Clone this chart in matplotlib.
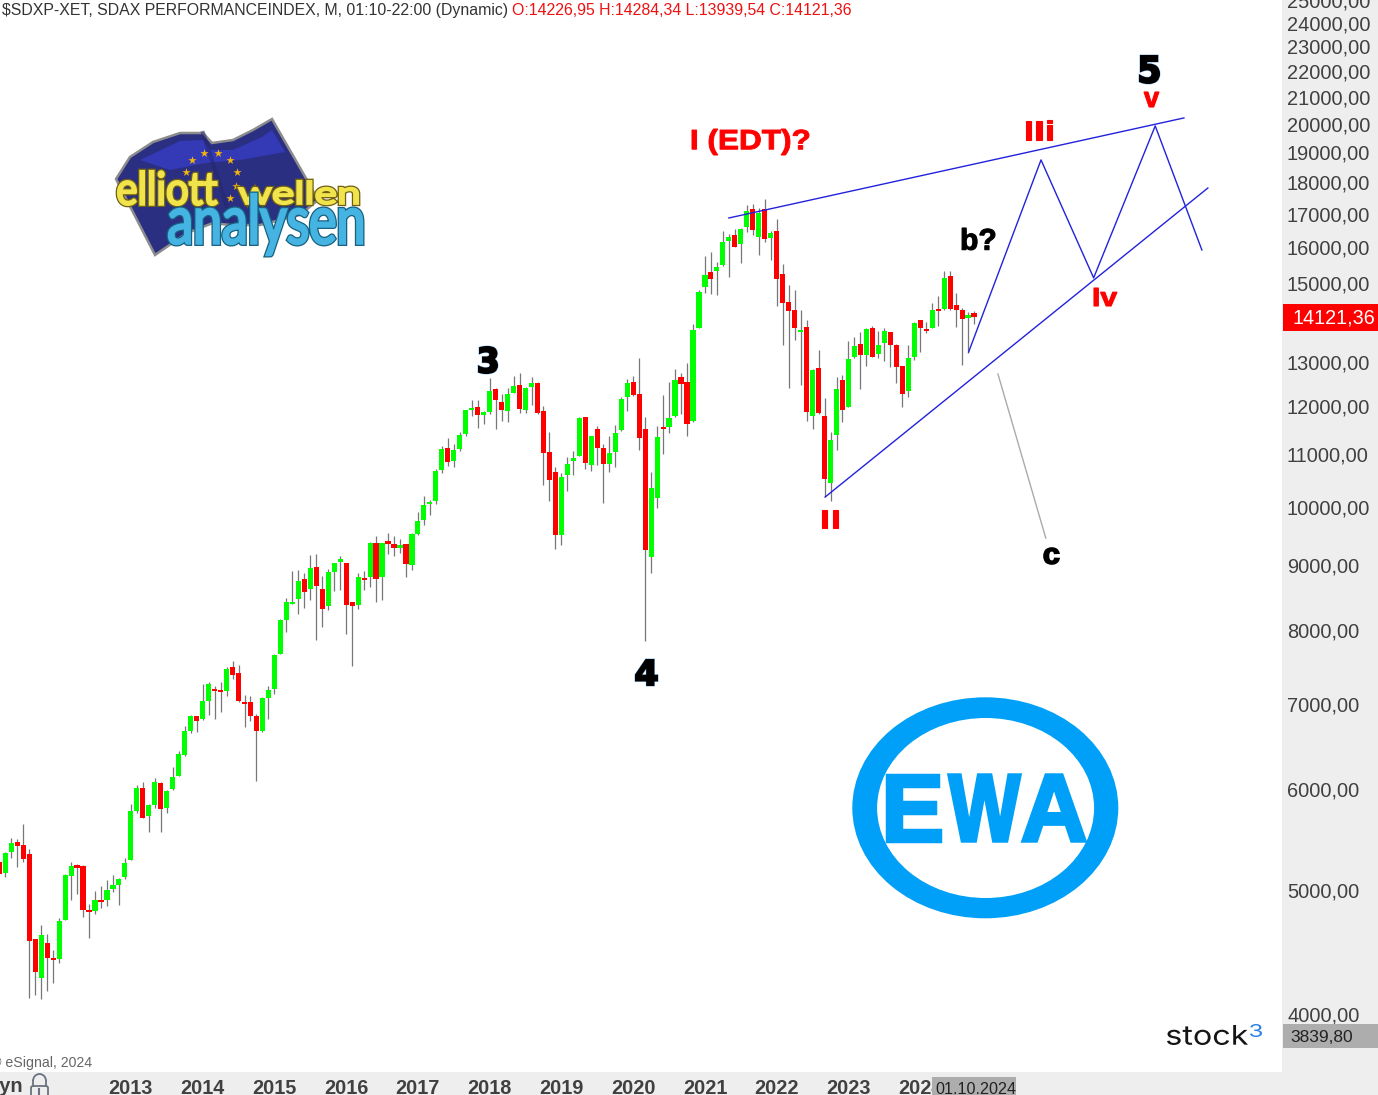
import numpy as np
import matplotlib
matplotlib.use('Agg')
import matplotlib.pyplot as plt
from matplotlib.patches import Ellipse, PathPatch, Polygon, Rectangle, FancyBboxPatch, Arc
from matplotlib.textpath import TextPath
from matplotlib.font_manager import FontProperties
from matplotlib.transforms import Affine2D, ScaledTranslation
from matplotlib.ticker import NullLocator
import matplotlib.patheffects as pe

# monthly candles, first one March 2011, last one October 2024
opens = [5270,5170,5370,5465,5435,5350,4585,4275,4555,4430,4425,4745,5140,5245,5235,4835,4825,4920,4920,5020,5055,5130,5290,5780,6025,5730,5845,6080,5815,6015,6160,6400,6680,6865,6830,7055,7210,7195,7185,7500,7420,7040,7040,6865,6680,7090,7210,
         7680,8165,8405,8485,8795,8635,8990,8635,8375,8905,9070,9055,8435,8390,8810,8825,9385,8825,9420,9370,9300,9370,9020,9540,9785,10075,10125,10710,11145,10885,11125,11430,11940,12005,11830,11895,12400,12115,11915,12310,12490,11940,12445,12535,11915,
         11065,10675,9525,10615,10885,10985,11790,10810,11535,11145,10830,11065,11515,12225,12560,12290,11535,9150,10180,11575,11575,11810,
         12675,12560,11705,13845,14915,15325,15350,15520,16205,16385,16120,16620,17170,16325,17170,16295,16500,15270,14515,14305,13745,13870,11810,12880,11810,10460,11410,12605,12005,13140,13450,13185,13845,13210,13475,13745,13430,12930,12355,13140,14050,13820,13845,14330,14330,15210,14435,14305,14100,14226.95]
highs = [5270,5370,5505,5495,5645,5400,4585,4705,4630,4495,4765,5160,5270,5255,5245,4885,5005,5050,5105,5150,5120,5310,5855,6060,6095,5860,6135,6095,6005,6260,6445,6740,6880,6865,7275,7300,7250,7300,7500,7585,7530,7130,7120,6890,7105,7250,7680,
         8180,8500,8925,8940,8890,9185,9200,8845,8955,9055,9170,9055,8435,8890,8925,9405,9505,9385,9560,9505,9455,9370,9560,9930,10220,10145,10730,11185,11350,11225,11475,11940,12155,12155,11915,12650,12425,12290,12425,12695,12765,12445,12675,12560,12025,
         11475,10770,10655,10965,11085,11790,11790,11390,11600,11225,11390,11620,12225,12625,12695,13115,11790,10675,11600,12265,12560,12860,
         12765,13000,13950,14830,15775,15885,15605,16500,16415,16560,16590,17295,17330,17205,17485,16500,16865,15545,14965,14830,14305,14050,12860,13305,12200,11475,12675,12720,13525,13625,13745,13845,13895,13770,13845,13745,13450,12930,13430,14000,14050,14000,14490,14670,15350,15350,14750,14355,14250,14284.34]
lows = [5160,5130,5310,5225,5270,4125,4145,4115,4175,4235,4390,4745,4920,4975,4775,4595,4800,4850,4870,4995,4880,5115,5290,5760,5710,5565,5815,5565,5760,6005,6160,6385,6655,6670,6815,6880,6830,6915,7120,7340,7040,6730,6805,6105,6670,6830,7145,
        7680,7990,8405,8255,8345,8465,7875,8065,8315,8605,8620,7960,7515,8330,8620,8670,8435,8465,9200,9170,9220,8825,8940,9525,9695,9875,10075,10655,10790,10770,11085,11390,11810,11555,11640,11855,11535,11705,11685,12310,11875,11875,12045,11855,10425,
        10125,9285,9355,10310,10615,10985,10730,10690,10810,10090,10675,10770,11495,11915,12245,11105,7860,8890,10000,11025,11455,11790,
        11855,11390,11685,13845,14750,14725,14700,15490,15185,16030,15575,16470,16385,15800,16175,15660,14410,13430,12425,13550,12490,11705,11535,11855,10200,10125,11105,11685,12005,13115,12400,12930,13140,13115,13045,12905,12535,12005,12225,13070,13260,13725,13845,13895,14305,14305,13870,12950,13235,13939.54]
closes = [5160,5360,5455,5425,5300,4570,4320,4620,4430,4415,4740,5150,5235,5215,4835,4815,4920,4905,5010,5055,5115,5265,5780,6025,5710,5845,6095,5800,5995,6150,6410,6680,6865,6805,7055,7275,7185,7170,7475,7395,7055,7015,6865,6680,7090,7195,7665,
          8165,8435,8435,8765,8590,8970,8685,8330,8905,9055,9120,8390,8375,8825,8780,9385,8795,9385,9370,9300,9355,9035,9540,9770,10055,10110,10690,11125,10865,11105,11410,11940,11980,11830,11895,12355,12155,11940,12290,12470,11960,12425,12535,11875,11045,
          10520,9525,10575,10830,10945,11765,10850,11390,11145,10830,11045,11455,12180,12535,12265,11350,9270,10370,11370,11535,11765,12605,
          12515,11640,13795,14780,15240,15130,15460,16175,16325,16030,16560,17110,16530,17050,16265,16445,15130,14490,14280,13845,13795,11895,12835,11875,10540,11310,12400,11940,13090,13405,13185,13820,13140,13430,13770,13430,12905,12290,13115,13975,13845,13770,14305,14280,15160,14330,14305,14075,14175,14121.36]

years = [2013,2014,2015,2016,2017,2018,2019,2020,2021,2022,2023,2024]
year_pos = [22,34,46,58,70,82,94,106,118,130,142,154]
price_ticks = [4000,5000,6000,7000,8000,9000,10000,11000,12000,13000,15000,16000,17000,18000,19000,20000,21000,22000,23000,24000,25000]

# hand drawn wave lines: month index, price
upper_x = [122.0,198.1]
upper_y = [16895,20245]
lower_x = [138.1,202.1]
lower_y = [10200,17835]
zig_x = [162.1,174.2,183.0,193.3,201.1]
zig_y = [13260,18765,15160,19955,15945]
alt_x = [167.0,175.0]
alt_y = [12740,9470]

W, H = 1378, 1095
SANS = 'Liberation Sans'
GREEN = '#00ff00'
RED = '#ff0000'
WICK = '#777777'
LINE = '#2222dd'
PANEL = '#eeeeee'
INK = '#404040'

fig = plt.figure(figsize=(W / 100, H / 100), dpi=100, facecolor=PANEL)
ax = fig.add_axes([0, (H - 1072) / H, 1282 / W, 1072 / H], facecolor='white')
ax.set_yscale('log')
ax.set_xlim(0.112, 214.5)
ax.set_ylim(3606, 25058)

idx = np.arange(len(opens))
o = np.array(opens)
c = np.array(closes)
up = c >= o
ax.vlines(idx, lows, highs, color=WICK, lw=0.9, zorder=2)
ax.bar(idx, np.abs(c - o), bottom=np.minimum(o, c), width=0.86,
       color=np.where(up, GREEN, RED), linewidth=0, zorder=3)

ax.plot(upper_x, upper_y, color=LINE, lw=1.0, zorder=4)
ax.plot(lower_x, lower_y, color=LINE, lw=1.0, zorder=4)
ax.plot(zig_x, zig_y, color=LINE, lw=1.0, zorder=4)
ax.plot(alt_x, alt_y, color='#aaaaaa', lw=1.0, zorder=4)

for s in ax.spines.values():
    s.set_visible(False)
ax.yaxis.tick_right()
ax.yaxis.set_minor_locator(NullLocator())
ax.set_yticks(price_ticks)
ax.set_yticklabels(['%d,00' % p for p in price_ticks], fontsize=14.4, family=SANS, color=INK)
ax.set_xticks(year_pos)
ax.set_xticklabels(years, fontsize=14.3, family=SANS, fontweight='bold', color=INK)
ax.tick_params(axis='both', length=0)
ax.tick_params(axis='y', pad=3.6)
ax.tick_params(axis='x', pad=5)
# labels sit one pixel above their price level
nudge = ScaledTranslation(0, 1 / 100, fig.dpi_scale_trans)
for lab in ax.get_yticklabels():
    lab.set_transform(lab.get_transform() + nudge)

# everything that sits on top of the chart, in screen pixels
deco = fig.add_axes([0, 0, 1, 1], facecolor='none')
deco.set_xlim(0, W)
deco.set_ylim(H, 0)
deco.axis('off')


def fit_text(txt, x0, y0, x1, y1, font, **kw):
    # text outline stretched into a pixel box
    tp = TextPath((0, 0), txt, size=100, prop=font)
    b = tp.get_extents()
    tr = Affine2D().translate(-b.x0, -b.y0).scale((x1 - x0) / b.width, -(y1 - y0) / b.height).translate(x0, y1)
    patch = PathPatch(tr.transform_path(tp), **kw)
    deco.add_patch(patch)
    return patch


# header
deco.text(2, 10.5, '$SDXP-XET, SDAX PERFORMANCEINDEX, M, 01:10-22:00 (Dynamic)', family=SANS, fontsize=11.42, color='#333333', va='center', ha='left')
deco.text(512, 10.5, 'O:14226,95 H:14284,34 L:13939,54 C:14121,36', family=SANS, fontsize=11.4, color='#ee1111', va='center', ha='left')

# price boxes
deco.add_patch(Rectangle((1283, 304), 95, 27, color='#ff0000', lw=0))
deco.text(1293, 317.5, '14121,36', family=SANS, fontsize=14.2, color='white', va='center', ha='left')
deco.add_patch(Rectangle((1283, 1024), 95, 24, color='#adadad', lw=0))
deco.text(1290, 1037, '3839,80', family=SANS, fontsize=12.5, color='#222222', va='center', ha='left')
deco.add_patch(Rectangle((932, 1077), 84, 18, color='#adadad', lw=0))
deco.text(935, 1089, '01.10.2024', family=SANS, fontsize=11.6, color='#222222', va='center', ha='left')

# footer
deco.text(92, 1063, '© eSignal, 2024', family=SANS, fontsize=10.2, color='#666666', va='center', ha='right')
deco.text(23, 1087, 'Dyn', family=SANS, fontsize=14.3, fontweight='bold', color=INK, va='center', ha='right')
deco.add_patch(FancyBboxPatch((31, 1086), 17, 12, boxstyle='round,pad=0,rounding_size=2', fc='none', ec='#6b7280', lw=1.3))
deco.add_patch(Arc((39.5, 1081), 13, 14, theta1=180, theta2=360, color='#6b7280', lw=1.3))
deco.plot([33, 33], [1081, 1086], color='#6b7280', lw=1.3)
deco.plot([46, 46], [1081, 1086], color='#6b7280', lw=1.3)
deco.plot([39, 39], [1089, 1094], color='#6b7280', lw=1.5)

# wave labels
bold = FontProperties(family='DejaVu Sans', weight='bold')
arial = FontProperties(family=SANS, weight='bold')
halo = [pe.withStroke(linewidth=2.2, foreground='#9fd0ff')]
fit_text('5', 1140, 56, 1159, 83, bold, fc='black', ec='black', lw=1.5, path_effects=halo)
fit_text('3', 479, 347, 497, 373, bold, fc='black', ec='black', lw=1.5, path_effects=halo)
fit_text('4', 636, 660, 657, 685, bold, fc='black', ec='black', lw=1.5, path_effects=halo)
fit_text('b?', 962, 228, 995, 250, arial, fc='black', ec='black', lw=0.8)
fit_text('c', 1044, 548, 1059, 564, arial, fc='black', ec='black', lw=1.2)
fit_text('I (EDT)?', 692, 129, 809, 155, arial, fc='#ff0000', ec='#ff0000', lw=0.7)
fit_text('IIi', 1026, 120, 1052, 140, arial, fc='#ff0000', ec='#ff0000', lw=0.8)
fit_text('II', 822, 510, 838, 528, arial, fc='#ff0000', ec='#ff0000', lw=0.8)
fit_text('Iv', 1094, 288, 1117, 306, arial, fc='#ff0000', ec='#ff0000', lw=0.8)
fit_text('v', 1144, 92, 1159, 107, arial, fc='#ff0000', ec='#ff0000', lw=0.8)

# elliott wellen logo
flag_x = [116,130,153,180,203,212,233,253,272,303,318,300,260,230,213,187,155]
flag_y = [179,157,142,133,133,143,140,130,119,173,200,215,225,225,223,233,255]
deco.add_patch(Polygon(np.column_stack([flag_x, flag_y]), closed=True, fc='#2a2f82', ec='#8c8c8c', lw=1.8))
deco.add_patch(Polygon([[140,160],[180,141],[203,140],[210,150],[233,150],[262,137],[272,130],[285,152],[240,160],[205,163],[170,170]], closed=True, fc='#3439b5', lw=0))
deco.plot([203, 233], [133, 225], color='#23276e', lw=3, alpha=0.5)
star_x = [192,204,218,230,237,236,230,186]
star_y = [160,153,153,160,172,186,198,172]
deco.scatter(star_x, star_y, marker='*', s=38, c='#f2b40e', linewidths=0, zorder=3)
logo_font = FontProperties(family='Lato')
y_edge = [pe.Stroke(linewidth=3.4, foreground='#6f5f12'), pe.Stroke(linewidth=1.6, foreground='#f0e34c'), pe.Normal()]
b_edge = [pe.Stroke(linewidth=3.6, foreground='#17607f'), pe.Stroke(linewidth=1.8, foreground='#45b4e2'), pe.Normal()]
fit_text('elliott', 118, 171, 217, 205, logo_font, fc='#f0e34c', lw=0, zorder=5, path_effects=y_edge)
fit_text('wellen', 239, 181, 358, 204, logo_font, fc='#f0e34c', lw=0, zorder=5, path_effects=y_edge)
fit_text('analysen', 169, 194, 362, 255, logo_font, fc='#45b4e2', lw=0, zorder=6, path_effects=b_edge)

# EWA logo
ring = '#00a0f8'
deco.add_patch(Ellipse((985.3, 807.8), 266, 221, fc=ring, lw=0))
deco.add_patch(Ellipse((985.6, 808), 217, 180, fc='white', lw=0))
ewa_font = FontProperties(family=SANS, weight='bold')
fit_text('E', 887, 775, 940, 841, ewa_font, fc=ring, ec=ring, lw=2.5)
fit_text('W', 949, 775, 1020, 841, ewa_font, fc=ring, ec=ring, lw=2.5)
fit_text('A', 1023, 775, 1085, 841, ewa_font, fc=ring, ec=ring, lw=2.5)

# stock3 logo
st_font = FontProperties(family='Inter')
fit_text('stock', 1167, 1025, 1248, 1045, st_font, fc='#151515', lw=0)
fit_text('3', 1250, 1024, 1262, 1037, st_font, fc='#2b7fe8', lw=0)

fig.savefig('out.png', dpi=100, facecolor=PANEL)
